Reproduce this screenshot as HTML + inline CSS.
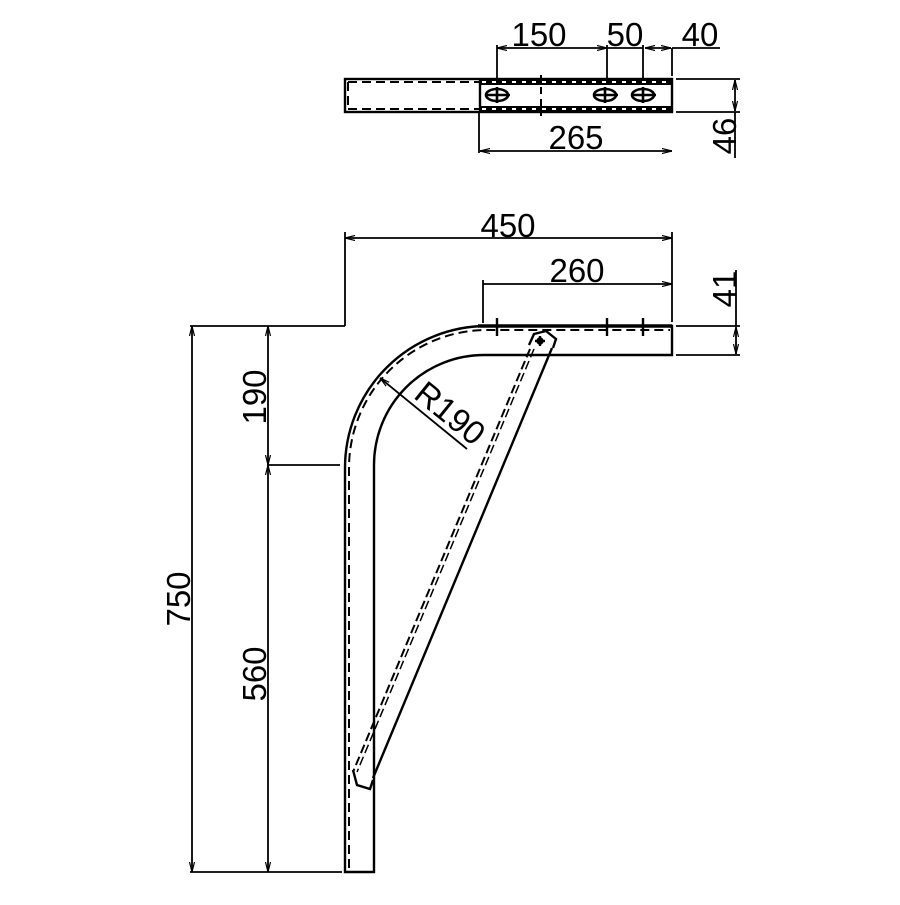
<!DOCTYPE html>
<html><head><meta charset="utf-8"><style>html,body{margin:0;padding:0;background:#fff}</style></head><body>
<svg width="900" height="900" viewBox="0 0 900 900" xmlns="http://www.w3.org/2000/svg">
<defs>
<marker id="a" viewBox="0 0 10 6" refX="10" refY="3" markerWidth="10" markerHeight="6" orient="auto-start-reverse" markerUnits="userSpaceOnUse"><path d="M0,0.5 L10,3 L0,5.5" fill="none" stroke="#000" stroke-width="1.2"/></marker>
</defs>
<g fill="none" stroke="#000" stroke-width="2.4">
<rect x="345" y="79" width="327" height="33"/>
<line x1="480" y1="79" x2="480" y2="112"/>
<g stroke-dasharray="9,5" stroke-width="2">
<line x1="348" y1="82" x2="480" y2="82"/><line x1="348" y1="109" x2="480" y2="109"/>
<line x1="348" y1="82" x2="348" y2="109"/>
</g>
<rect x="480" y="79" width="192" height="6" fill="#000" stroke="none"/>
<rect x="480" y="106" width="192" height="6" fill="#000" stroke="none"/>
<line x1="482" y1="82" x2="670" y2="82" stroke="#fff" stroke-dasharray="4,6" stroke-width="2"/>
<line x1="482" y1="109" x2="670" y2="109" stroke="#fff" stroke-dasharray="4,6" stroke-width="2"/>
<line x1="541" y1="75" x2="541" y2="116" stroke-dasharray="7,5" stroke-width="2"/>
<g stroke-width="2.6">
<ellipse cx="497" cy="95" rx="11" ry="6"/><line x1="486" y1="95" x2="510" y2="95"/><line x1="497" y1="87" x2="497" y2="103"/>
<ellipse cx="605" cy="95" rx="11" ry="6"/><line x1="594" y1="95" x2="618" y2="95"/><line x1="605" y1="87" x2="605" y2="103"/>
<ellipse cx="643" cy="95" rx="11" ry="6"/><line x1="632" y1="95" x2="656" y2="95"/><line x1="643" y1="87" x2="643" y2="103"/>
</g>
<g stroke-width="1.8">
<line x1="497" y1="45" x2="497" y2="80"/><line x1="607" y1="45" x2="607" y2="80"/><line x1="643" y1="45" x2="643" y2="80"/><line x1="672" y1="48" x2="672" y2="76"/>
<line x1="497" y1="48" x2="607" y2="48" marker-start="url(#a)" marker-end="url(#a)"/>
<line x1="607" y1="48" x2="643" y2="48"/>
<line x1="645" y1="48" x2="671" y2="48" marker-start="url(#a)" marker-end="url(#a)"/>
<line x1="672" y1="48" x2="720" y2="48"/>
<line x1="479" y1="112" x2="479" y2="153"/>
<line x1="480" y1="151" x2="672" y2="151" marker-start="url(#a)" marker-end="url(#a)"/>
<line x1="676" y1="79" x2="740" y2="79"/><line x1="676" y1="112" x2="740" y2="112"/>
<line x1="735" y1="80" x2="735" y2="111" marker-start="url(#a)" marker-end="url(#a)"/>
<line x1="735" y1="112" x2="735" y2="158"/>
</g>
<path d="M345,872 L345,468 A142,142 0 0 1 487,326 L672,326 L672,355 L484,355 A110,110 0 0 0 374,465 L374,872 Z"/>
<path d="M349,868 L349,468 A138,138 0 0 1 487,330 L670,330" stroke-dasharray="9,5" stroke-width="2"/>
<line x1="478" y1="326" x2="672" y2="326" stroke-width="3.5"/>
<line x1="497" y1="318" x2="497" y2="336"/><line x1="607" y1="318" x2="607" y2="336"/><line x1="643" y1="318" x2="643" y2="336"/>
<line x1="552" y1="348" x2="373" y2="778"/>
<line x1="530" y1="349" x2="353" y2="772" stroke-dasharray="9,4" stroke-width="2"/>
<line x1="534" y1="349" x2="357" y2="772" stroke-dasharray="9,4" stroke-width="1.5"/>
<path d="M529,345 L534,334 L546,331 L556,339 L553,348"/>
<path d="M353,770 L357,785 L370,789 L373,780"/>
<line x1="535" y1="341" x2="545" y2="341"/><line x1="540" y1="336" x2="540" y2="346"/>
<circle cx="540" cy="341" r="2.5" fill="#000"/>
<g stroke-width="1.8">
<line x1="190" y1="326" x2="345" y2="326"/>
<line x1="190" y1="872" x2="342" y2="872"/>
<line x1="192" y1="326" x2="192" y2="872" marker-start="url(#a)" marker-end="url(#a)"/>
<line x1="268" y1="326" x2="268" y2="465" marker-start="url(#a)" marker-end="url(#a)"/>
<line x1="268" y1="465" x2="268" y2="872" marker-start="url(#a)" marker-end="url(#a)"/>
<line x1="268" y1="465" x2="340" y2="465"/>
<line x1="345" y1="232" x2="345" y2="326"/><line x1="672" y1="232" x2="672" y2="322"/>
<line x1="345" y1="238" x2="672" y2="238" marker-start="url(#a)" marker-end="url(#a)"/>
<line x1="483" y1="280" x2="483" y2="323"/>
<line x1="483" y1="284" x2="672" y2="284" marker-end="url(#a)"/>
<line x1="676" y1="326" x2="740" y2="326"/><line x1="676" y1="355" x2="740" y2="355"/>
<line x1="736" y1="270" x2="736" y2="326"/>
<line x1="736" y1="327" x2="736" y2="354" marker-start="url(#a)" marker-end="url(#a)"/>
<line x1="380" y1="378" x2="467" y2="449" marker-start="url(#a)"/>
</g>
</g>
<g font-family="Liberation Sans, sans-serif" font-size="33" fill="#000" text-anchor="middle">
<text x="539" y="46">150</text>
<text x="625" y="46">50</text>
<text x="700" y="46">40</text>
<text x="576" y="149">265</text>
<text x="508" y="237">450</text>
<text x="577" y="282">260</text>
<text transform="translate(736,136) rotate(-90)">46</text>
<text transform="translate(736,289) rotate(-90)">41</text>
<text transform="translate(266,397) rotate(-90)">190</text>
<text transform="translate(266,674) rotate(-90)">560</text>
<text transform="translate(190,599) rotate(-90)">750</text>
<text transform="translate(443,422) rotate(39)">R190</text>
</g>
</svg>
</body></html>
